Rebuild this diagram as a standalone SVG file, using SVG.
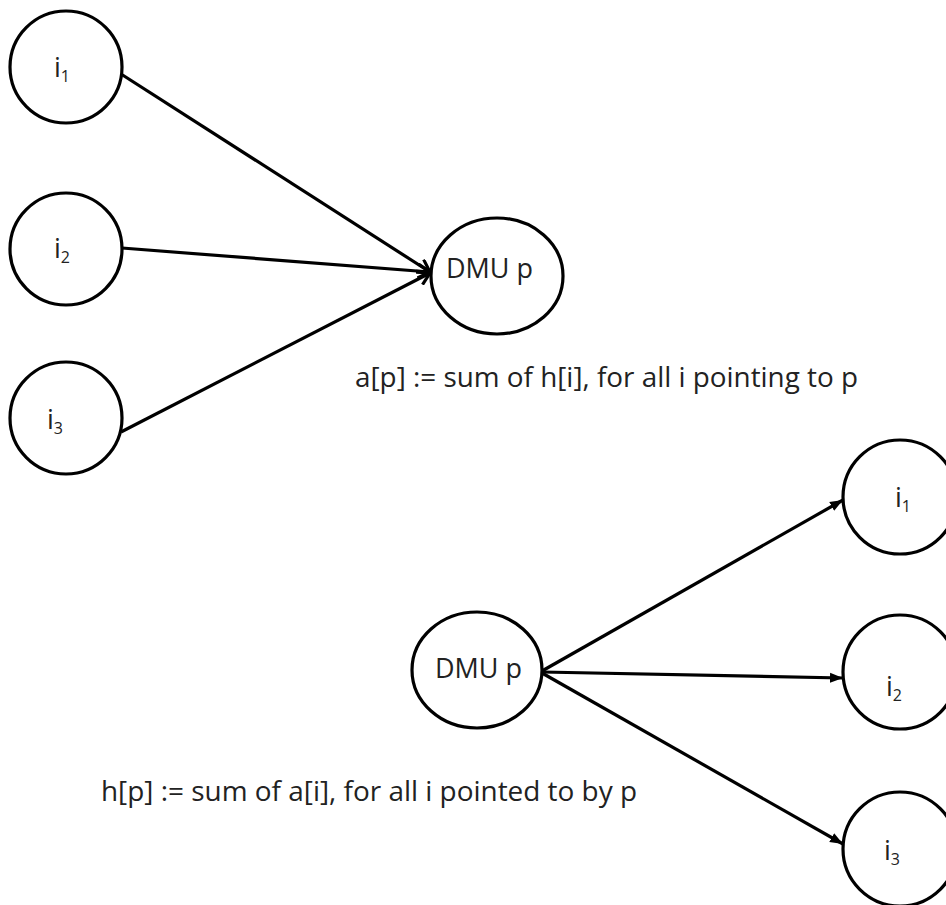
<svg xmlns="http://www.w3.org/2000/svg" width="946" height="905" viewBox="0 0 946 905">
<defs>
<style>
.n{fill:#fff;stroke:#000;stroke-width:3.2}
.t{font-family:"Open Sans","Liberation Sans",sans-serif;font-size:27px;fill:#222}
.s{font-size:16px}
.e{stroke:#000;stroke-width:3.2;fill:none}
</style>
<marker id="open" markerWidth="16" markerHeight="16" refX="13" refY="8" orient="auto" markerUnits="userSpaceOnUse">
<path d="M1,1 L13,8 L1,15" fill="none" stroke="#000" stroke-width="3.2"/>
</marker>
<marker id="fill" markerWidth="14" markerHeight="12" refX="13" refY="6" orient="auto" markerUnits="userSpaceOnUse">
<path d="M0,1 L13,6 L0,11 Z" fill="#000"/>
</marker>
</defs>
<rect width="946" height="905" fill="#fff"/>
<g id="edges">
<line class="e" x1="121" y1="74" x2="430" y2="272" marker-end="url(#open)"/>
<line class="e" x1="122" y1="248" x2="430" y2="272" marker-end="url(#open)"/>
<line class="e" x1="121" y1="432" x2="430" y2="273" marker-end="url(#open)"/>
<line class="e" x1="542" y1="671" x2="843" y2="500" marker-end="url(#fill)"/>
<line class="e" x1="542" y1="672" x2="843" y2="678" marker-end="url(#fill)"/>
<line class="e" x1="542" y1="673" x2="843" y2="844" marker-end="url(#fill)"/>
</g>
<g id="a_i1"><circle class="n" cx="66" cy="67" r="56"/><text class="t" x="54" y="77">i<tspan class="s" dy="5">1</tspan></text></g>
<g id="a_i2"><circle class="n" cx="66" cy="249" r="56"/><text class="t" x="54" y="258">i<tspan class="s" dy="5">2</tspan></text></g>
<g id="a_i3"><circle class="n" cx="66" cy="418" r="56"/><text class="t" x="47" y="429">i<tspan class="s" dy="5">3</tspan></text></g>
<g id="a_dmu"><ellipse class="n" cx="497" cy="276" rx="66" ry="58"/><text class="t" x="446" y="278" textLength="87" lengthAdjust="spacingAndGlyphs">DMU p</text></g>
<g id="a_label"><text class="t" x="355" y="387" textLength="503" lengthAdjust="spacingAndGlyphs">a[p] := sum of h[i], for all i pointing to p</text></g>
<g id="h_dmu"><ellipse class="n" cx="477" cy="670" rx="65" ry="58"/><text class="t" x="435" y="678" textLength="87" lengthAdjust="spacingAndGlyphs">DMU p</text></g>
<g id="h_i1"><circle class="n" cx="900" cy="497" r="57"/><text class="t" x="895" y="507">i<tspan class="s" dy="5">1</tspan></text></g>
<g id="h_i2"><circle class="n" cx="900" cy="672" r="57"/><text class="t" x="886" y="696">i<tspan class="s" dy="5">2</tspan></text></g>
<g id="h_i3"><circle class="n" cx="900" cy="849" r="57"/><text class="t" x="884" y="860">i<tspan class="s" dy="5">3</tspan></text></g>
<g id="h_label"><text class="t" x="101" y="801" textLength="536" lengthAdjust="spacingAndGlyphs">h[p] := sum of a[i], for all i pointed to by p</text></g>
</svg>
